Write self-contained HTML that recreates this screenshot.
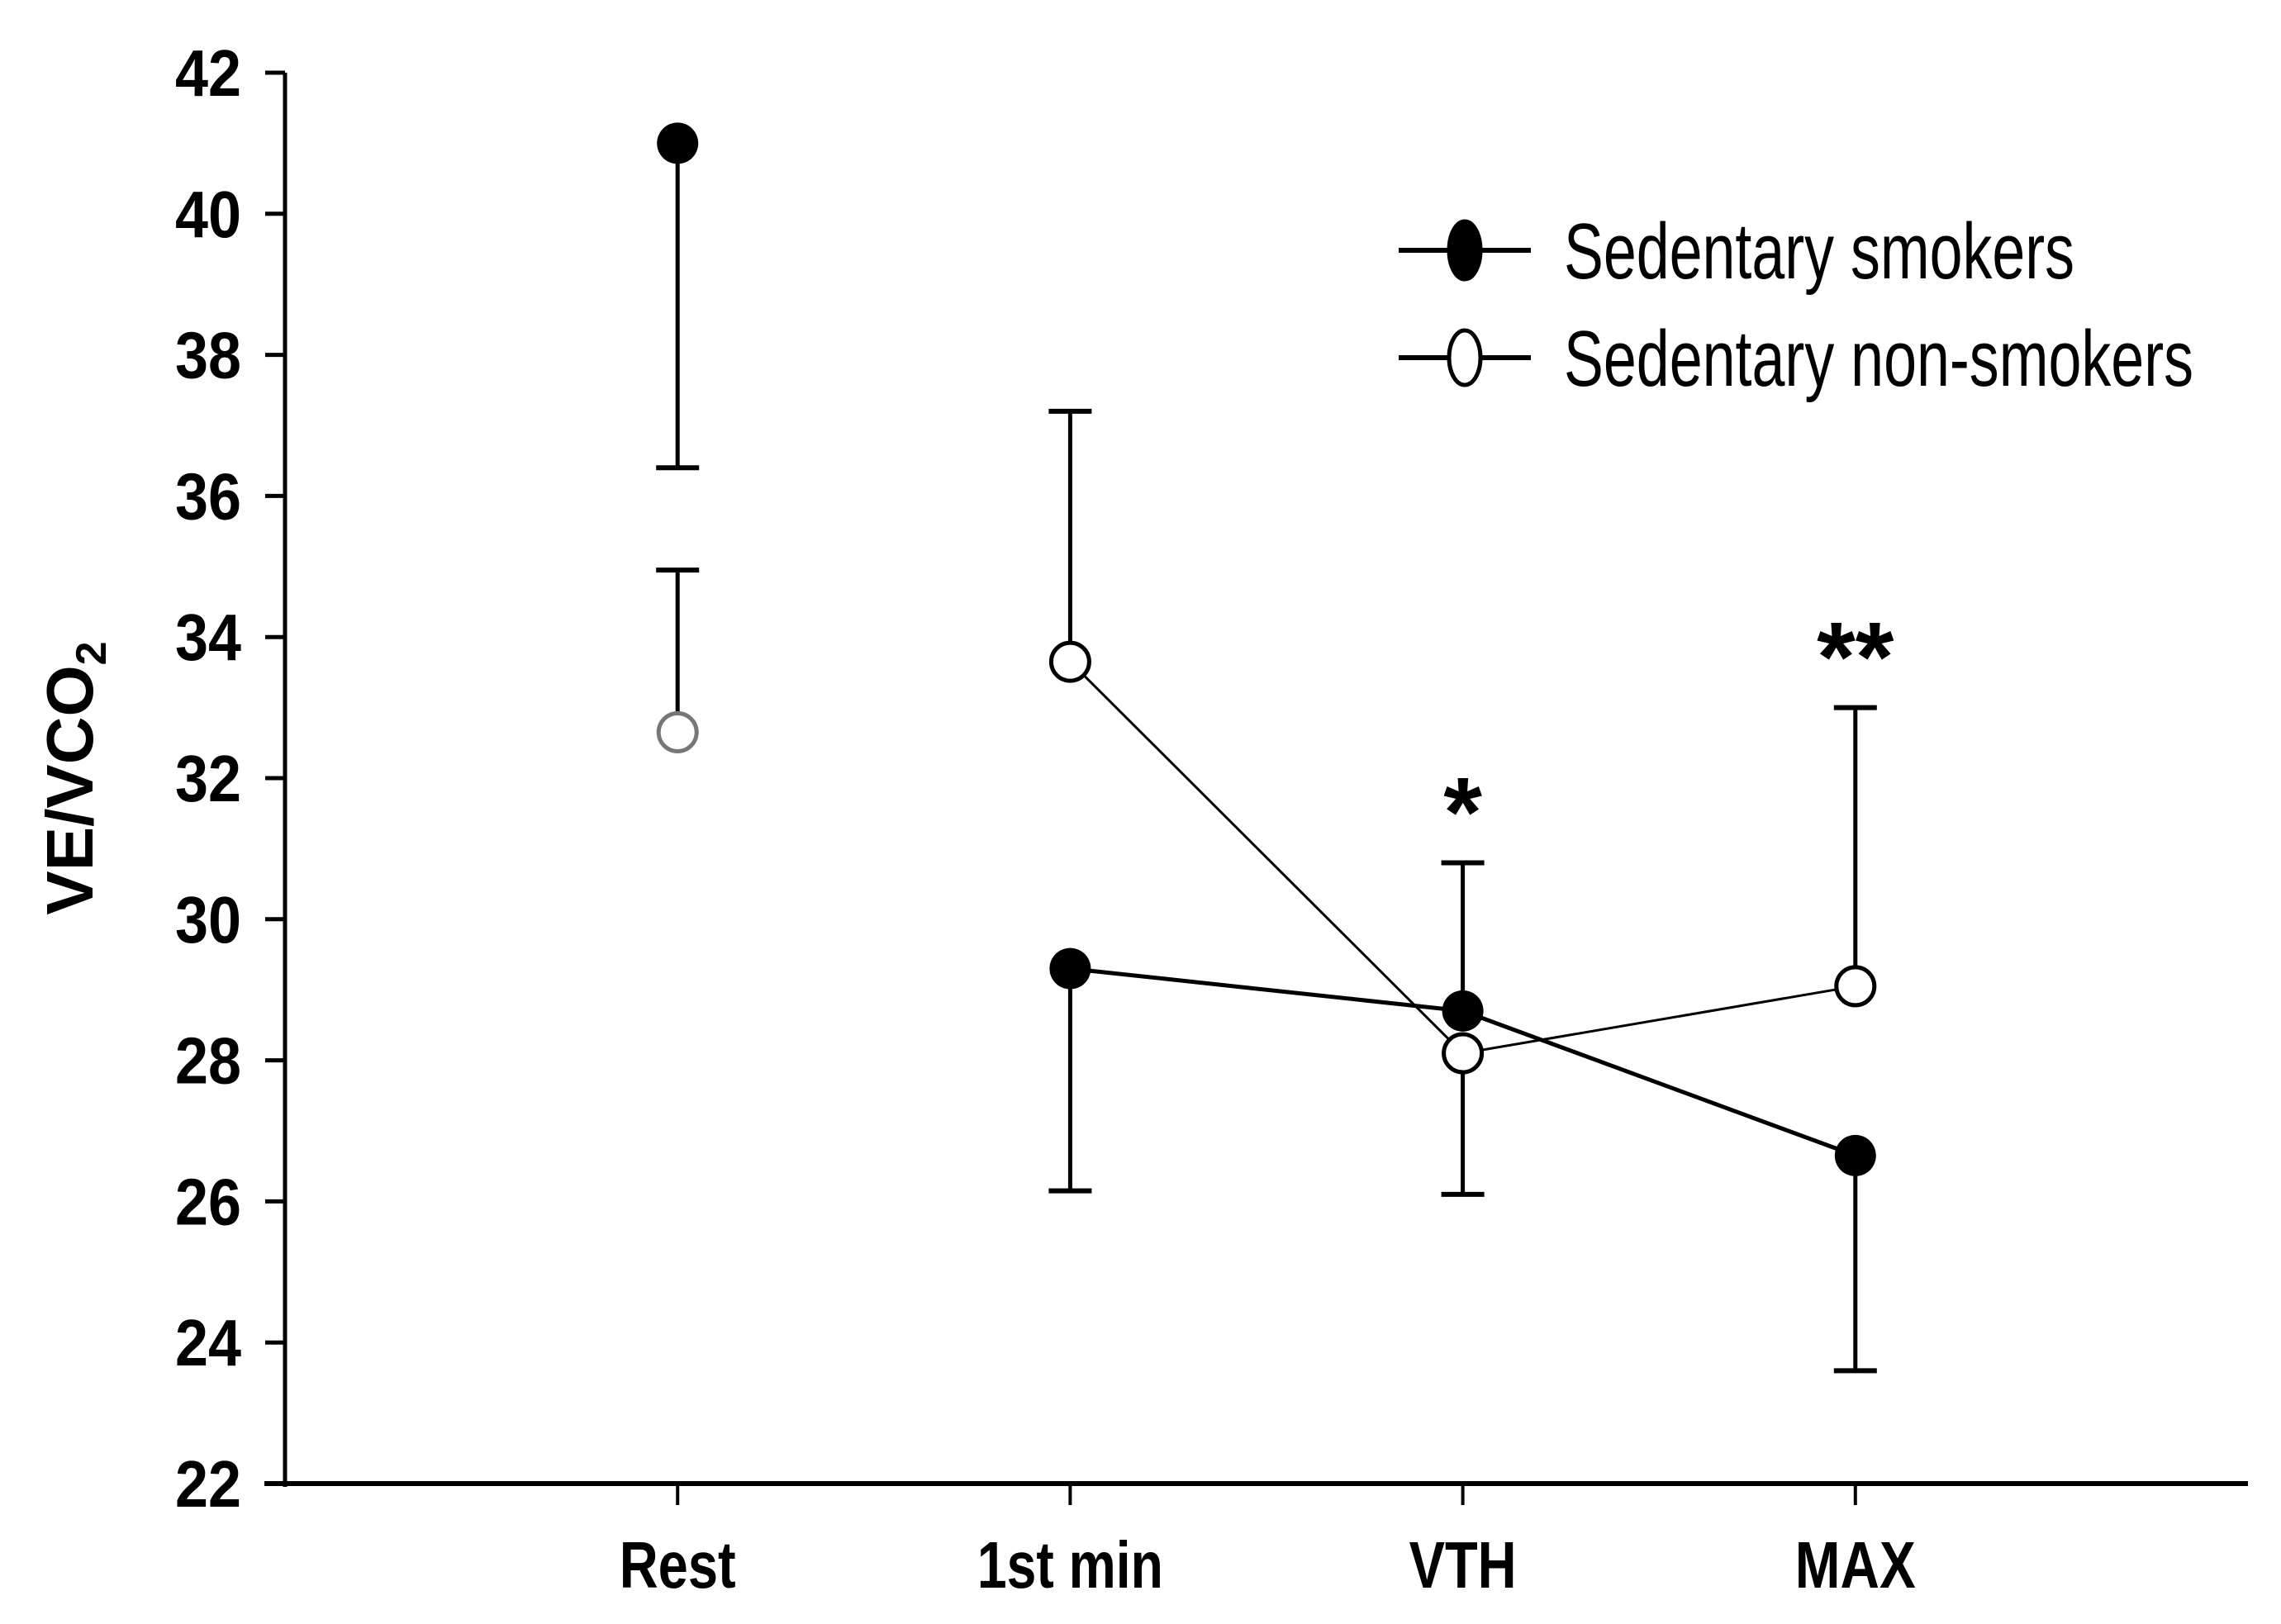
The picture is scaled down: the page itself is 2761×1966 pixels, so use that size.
<!DOCTYPE html>
<html><head><meta charset="utf-8"><style>
html,body{margin:0;padding:0;background:#fff;}
svg{display:block;}
text{font-family:"Liberation Sans",Arial,sans-serif;}
</style></head><body>
<svg id="chart" width="2761" height="1966" viewBox="0 0 2761 1966" xmlns="http://www.w3.org/2000/svg">
<g id="axes"></g>
<g id="marks"></g>
<g id="legend"></g>
</svg>
<script>
const categories = ["Rest", "1st min", "VTH", "MAX"];
const yTicks = [22, 24, 26, 28, 30, 32, 34, 36, 38, 40, 42];
const smokersMean = [41.0, 29.3, 28.7, 26.65];
const smokersErr = [36.4, 26.15, 30.8, 23.6];
const nonSmokersMean = [32.65, 33.65, 28.1, 29.05];
const nonSmokersErr = [34.95, 37.2, 26.1, 33.0];
const sigLabels = ["", "", "*", "**"];

const NS = "http://www.w3.org/2000/svg";
const L = 345, R = 2721, T = 88, B = 1796;
const yMin = 22, yMax = 42;
function xPos(i){ return L + (R - L) * (i + 1) / (categories.length + 1); }
function yPos(v){ return B - (v - yMin) / (yMax - yMin) * (B - T); }
function mk(tag, attrs, parent){
  const e = document.createElementNS(NS, tag);
  for (const k in attrs) e.setAttribute(k, attrs[k]);
  parent.appendChild(e);
  return e;
}
const axes = document.getElementById('axes');
const marks = document.getElementById('marks');
const legend = document.getElementById('legend');

let yAxis = mk('line', {x1:L, y1:T, x2:L, y2:B+4, stroke:'#000','stroke-width':5}, axes);


let xAxis = mk('line', {x1:L-25, y1:B, x2:R, y2:B, stroke:'#000','stroke-width':6}, axes);



yTicks.forEach(v => {
  const y = yPos(v);
  const t = mk('line', {x1:L-24, y1:y, x2:L, y2:y, stroke:'#000','stroke-width':5}, axes);
  
  
  const lb = mk('text', {x:292, y:y+28, 'text-anchor':'end','font-size':80,'font-weight':'bold', textLength:80, lengthAdjust:'spacingAndGlyphs'}, axes);
  lb.textContent = v;
  
  
});
const xLabelW = [141, 225, 130, 146];
categories.forEach((c, i) => {
  const x = xPos(i);
  const t = mk('line', {x1:x, y1:B, x2:x, y2:B+26, stroke:'#000','stroke-width':4}, axes);
  
  
  const lb = mk('text', {x:x, y:1922, 'text-anchor':'middle','font-size':80,'font-weight':'bold', textLength:xLabelW[i], lengthAdjust:'spacingAndGlyphs'}, axes);
  lb.textContent = c;
  
  
});
const yt = mk('text', {x:0, y:0, transform:'translate(112,942) rotate(-90)', 'text-anchor':'middle','font-size':80,'font-weight':'bold'}, axes);


yt.appendChild(document.createTextNode('VE/VCO'));
const sub = mk('tspan', {'font-size':52, dy:16}, yt);
sub.textContent = '2';

function errBar(i, mean, err, color, name){
  const x = xPos(i);
  const l = mk('line', {x1:x, y1:yPos(mean), x2:x, y2:yPos(err), stroke:color,'stroke-width':5}, marks);
  
  
  const c = mk('line', {x1:x-26, y1:yPos(err), x2:x+26, y2:yPos(err), stroke:color,'stroke-width':6}, marks);
  
  
}
smokersMean.forEach((m, i) => errBar(i, m, smokersErr[i], '#000', 'smokers-error-bar'));
nonSmokersMean.forEach((m, i) => errBar(i, m, nonSmokersErr[i], '#000', 'non-smokers-error-bar'));

function linePts(arr){ return arr.slice(1).map((v, j) => xPos(j+1) + ',' + yPos(v)).join(' '); }
const nsLine = mk('polyline', {points:linePts(nonSmokersMean), fill:'none', stroke:'#000','stroke-width':3}, marks);


const sLine = mk('polyline', {points:linePts(smokersMean), fill:'none', stroke:'#000','stroke-width':5}, marks);



nonSmokersMean.forEach((v, i) => {
  const c = mk('circle', {cx:xPos(i), cy:yPos(v), r:23, fill:'#fff', stroke: i===0 ? '#777' : '#000', 'stroke-width':5}, marks);
  
  
});
smokersMean.forEach((v, i) => {
  const c = mk('circle', {cx:xPos(i), cy:yPos(v), r:25, fill:'#000'}, marks);
  
  
});
sigLabels.forEach((s, i) => {
  if (!s) return;
  const top = Math.max(smokersErr[i], nonSmokersErr[i], smokersMean[i], nonSmokersMean[i]);
  const t = mk('text', {x:xPos(i), y:yPos(top) - 20, 'text-anchor':'middle','font-size':120,'font-weight':'bold'}, marks);
  t.textContent = s;
  
  
});

const legItems = [["Sedentary smokers", true, 303], ["Sedentary non-smokers", false, 433]];
legItems.forEach(([label, filled, y]) => {
  const g = mk('g', {}, legend);
  
  
  mk('line', {x1:1693, y1:y, x2:1853, y2:y, stroke:'#000','stroke-width':6}, g);
  mk('ellipse', {cx:1773, cy:y, rx:19, ry:filled?35:33, fill: filled?'#000':'#fff', stroke:'#000','stroke-width':5}, g);
  const t = mk('text', {x:1893, y:y+34, 'font-size':96, textLength: filled?618:762, lengthAdjust:'spacingAndGlyphs'}, g);
  t.textContent = label;
});
</script>
</body></html>
